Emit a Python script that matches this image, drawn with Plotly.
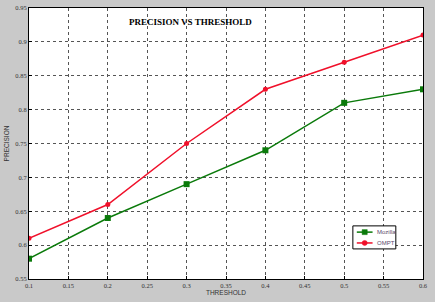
import plotly.graph_objects as go

threshold = [0.1, 0.2, 0.3, 0.4, 0.5, 0.6]
mozilla = [0.58, 0.64, 0.69, 0.74, 0.81, 0.83]
ompt = [0.61, 0.66, 0.75, 0.83, 0.87, 0.91]
x_ticks = [0.1, 0.15, 0.2, 0.25, 0.3, 0.35, 0.4, 0.45, 0.5, 0.55, 0.6]
y_ticks = [0.55, 0.6, 0.65, 0.7, 0.75, 0.8, 0.85, 0.9, 0.95]
series_names = ["Mozilla", "OMPT"]
green = "#0a7a0a"
red = "#f0102a"

fig = go.Figure()
fig.add_trace(go.Scatter(x=threshold, y=mozilla, name=series_names[0], mode="lines+markers",
                         line=dict(color=green, width=1.5),
                         marker=dict(symbol="square", size=6, color=green)))
fig.add_trace(go.Scatter(x=threshold, y=ompt, name=series_names[1], mode="lines+markers",
                         line=dict(color=red, width=1.5),
                         marker=dict(symbol="circle", size=5, color=red)))

# compact legend box (drawn in plot-area paper coordinates)
shapes = [dict(type="rect", xref="paper", yref="paper", x0=0.822, x1=0.931, y0=0.111, y1=0.196,
               fillcolor="white", line=dict(color="black", width=1), layer="above")]
annots = []
legend_rows = [(series_names[0], green, 0.173, "rect"), (series_names[1], red, 0.133, "circle")]
for name, col, yy, sym in legend_rows:
    shapes.append(dict(type="line", xref="paper", yref="paper", x0=0.832, x1=0.872, y0=yy, y1=yy,
                       line=dict(color=col, width=1.5), layer="above"))
    shapes.append(dict(type=sym, xref="paper", yref="paper",
                       x0=0.852 - 0.0065, x1=0.852 + 0.0065, y0=yy - 0.0092, y1=yy + 0.0092,
                       fillcolor=col, line=dict(color=col, width=0.5), layer="above"))
    annots.append(dict(text=name, x=0.877, y=yy, xref="paper", yref="paper", showarrow=False,
                       xanchor="left", yanchor="middle",
                       font=dict(family="Liberation Sans", size=6, color="#5a4a6a")))
annots.append(dict(text="<b>PRECISION VS THRESHOLD</b>", x=0.41, y=0.948,
                   xref="paper", yref="paper", showarrow=False, yanchor="middle",
                   font=dict(family="Liberation Serif", size=9, color="black")))

tickfont = dict(family="Liberation Serif", size=6.5, color="#333")
fig.update_layout(
    width=435, height=302,
    margin=dict(l=29, r=12, t=8, b=23, autoexpand=False),
    paper_bgcolor="#c9c9c9", plot_bgcolor="white",
    showlegend=False,
    shapes=shapes,
    annotations=annots,
)
fig.update_xaxes(range=[0.1, 0.6], tickvals=x_ticks, ticktext=[f"{v:g}" for v in x_ticks],
                 showgrid=True, gridcolor="#555", griddash="dot", gridwidth=1,
                 showline=True, linecolor="black", linewidth=1, mirror=True,
                 ticks="inside", ticklen=3, tickcolor="black", tickfont=tickfont,
                 zeroline=False, automargin=False,
                 title=dict(text="THRESHOLD", font=dict(family="Liberation Sans", size=6.5, color="#333"), standoff=2))
fig.update_yaxes(range=[0.55, 0.95], tickvals=y_ticks, ticktext=[f"{v:g}" for v in y_ticks],
                 showgrid=True, gridcolor="#555", griddash="dot", gridwidth=1,
                 showline=True, linecolor="black", linewidth=1, mirror=True,
                 ticks="inside", ticklen=3, tickcolor="black", tickfont=tickfont,
                 zeroline=False, automargin=False,
                 title=dict(text="PRECISION", font=dict(family="Liberation Sans", size=6.5, color="#333"), standoff=5))

fig.write_html("out.html", config={"displayModeBar": False},
               post_script="document.body.style.margin='0';document.body.style.overflow='hidden';")
